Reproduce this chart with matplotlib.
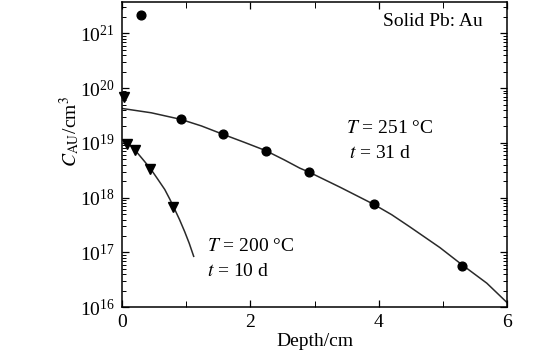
import numpy as np
import matplotlib
matplotlib.use("Agg")
import matplotlib.pyplot as plt
from matplotlib.ticker import LogLocator, FixedLocator, NullFormatter

plt.rcParams['font.family'] = ['Liberation Serif', 'DejaVu Serif']
plt.rcParams['mathtext.fontset'] = 'stix'

# Data
depth_251 = [0.30, 0.92, 1.57, 2.24, 2.91, 3.92, 5.29]
conc_251 = [2.13e21, 2.7e19, 1.44e19, 7.2e18, 2.98e18, 7.6e17, 5.7e16]

depth_200 = [0.03, 0.09, 0.20, 0.44, 0.80]
conc_200 = [7.0e19, 9.5e18, 7.4e18, 3.3e18, 6.7e17]

# fitted curves
fit251_x = [0.0, 0.46, 0.92, 1.24, 1.57, 1.91, 2.24, 2.53, 2.77, 2.91, 3.05,
            3.40, 3.92, 4.20, 4.48, 4.95, 5.29, 5.68, 6.0]
fit251_logy = [19.63, 19.55, 19.43, 19.31, 19.16, 19.01, 18.86, 18.69, 18.54, 18.47, 18.39,
               18.19, 17.88, 17.69, 17.47, 17.09, 16.78, 16.44, 16.08]

fit200_x = [0.03, 0.07, 0.16, 0.25, 0.35, 0.46, 0.56, 0.67, 0.75, 0.82, 0.90, 0.98, 1.05, 1.12]
fit200_logy = [19.05, 19.02, 18.93, 18.81, 18.67, 18.51, 18.34, 18.15, 17.97, 17.80, 17.60, 17.38, 17.17, 16.93]

fig = plt.figure(figsize=(5.6, 3.54), dpi=100)
ax = fig.add_axes([0.2173, 0.132, 0.906 - 0.2173, 0.994 - 0.132])

line_c = '#2a2a2a'
ax.plot(fit251_x, 10 ** np.array(fit251_logy), color=line_c, lw=1.1)
ax.plot(fit200_x, 10 ** np.array(fit200_logy), color=line_c, lw=1.1)
ax.plot(depth_251, conc_251, 'o', color='black', ms=6.3, clip_on=False)
ax.plot(depth_200, conc_200, 'v', color='black', ms=7, clip_on=False)

ax.set_yscale('log')
ax.set_xlim(0, 6)
ax.set_ylim(1e16, 10 ** 21.57)

ax.xaxis.set_major_locator(FixedLocator([0, 2, 4, 6]))
ax.xaxis.set_minor_locator(FixedLocator([1, 3, 5]))
ax.yaxis.set_major_locator(LogLocator(base=10, numticks=20))
ax.yaxis.set_minor_locator(LogLocator(base=10, subs=np.arange(2, 10), numticks=20))
ax.yaxis.set_minor_formatter(NullFormatter())

ax.tick_params(which='both', direction='in', top=True, right=True, labelsize=14, pad=5)
ax.tick_params(which='major', length=5, width=0.9)
ax.tick_params(which='minor', length=3, width=0.7)
ax.tick_params(axis='x', which='minor', length=4)
for s in ax.spines.values():
    s.set_linewidth(1.1)

ax.set_xlabel('Depth/cm', fontsize=14, labelpad=1)
ax.set_ylabel(r'$C_{\mathrm{AU}}$/cm$^3$', fontsize=14, labelpad=0)
ax.yaxis.set_label_coords(-0.103, 0.577)

ax.text(0.807, 0.935, 'Solid Pb: Au', transform=ax.transAxes, fontsize=14, ha='center', va='center')
ax.text(4.17, 10 ** (16 + (307.3 - 128) / 54.8), r'$T$ = 251 °C', fontsize=14, ha='center', va='center')
ax.text(4.02, 10 ** (16 + (307.3 - 153) / 54.8), r'$t$ = 31 d', fontsize=14, ha='center', va='center')
ax.text(2.01, 10 ** (16 + (307.3 - 247) / 54.8), r'$T$ = 200 °C', fontsize=14, ha='center', va='center')
ax.text(1.81, 10 ** (16 + (307.3 - 272) / 54.8), r'$t$ = 10 d', fontsize=14, ha='center', va='center')

fig.savefig('out.png', dpi=100)
